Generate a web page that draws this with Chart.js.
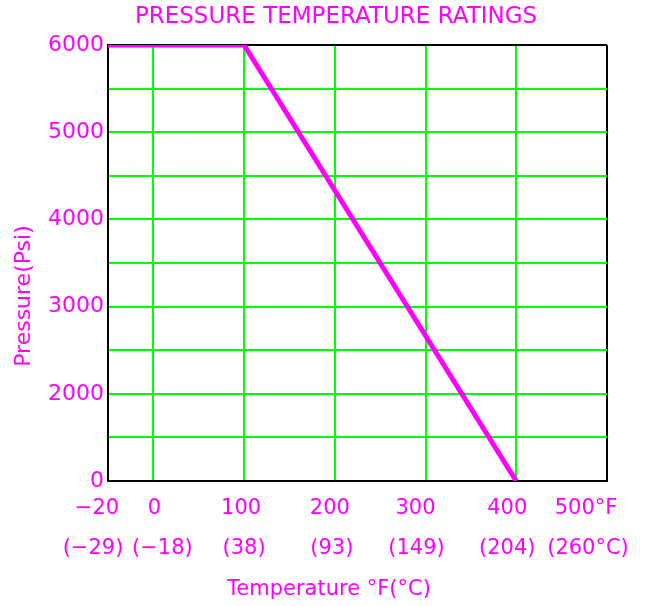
<!DOCTYPE html>
<html>
<head>
    <title>Pressure Temperature Ratings</title>
    <script src="https://cdn.jsdelivr.net/npm/chart.js"></script>
    <style>
        body {
            margin: 0;
            padding: 0;
            background-color: #ffffff;
        }
        #wrap {
            width: 645px;
            height: 606px;
        }
    </style>
</head>
<body>
    <div id="wrap">
        <canvas id="chart" width="645" height="606"></canvas>
    </div>

<script>
        // Axis ticks: temperature in F with the Celsius value underneath
        const tempF = [-20, 0, 100, 200, 300, 400, 500];
        const tempC = [-29, -18, 38, 93, 149, 204, 260];

        // Rating curve
        const ratingTempF = [-20, 100, 400];
        const ratingPsi = [6000, 6000, 0];

        // y grid every 500 psi from the bottom line up to 6000
        const psiTicks = [1000, 1500, 2000, 2500, 3000, 3500, 4000, 4500, 5000, 5500, 6000];
        const psiLabels = [0, 2000, 3000, 4000, 5000, 6000];

        const MAGENTA = '#ff00ff';
        const GREEN = '#00ff00';
        const FONT = 'DejaVu Sans';

        // hand lettering on the sheet is not quite centred on the grid lines
        const nudgeF = [-11, 1, -3, -5, -10, -9, -21];
        const nudgeC = [-15, 9, 0, -3, -9, -9, -19];

        // the original sheet squeezes the ends of both axes:
        // -20..0 F takes half a division, and the bottom grid line is labelled 0 psi
        function axisPos(f) {
            return f < 0 ? f * 2.5 : f;
        }
        function psiPos(p) {
            return p < 1000 ? 1000 : p;
        }

        const ticksX = tempF.map(axisPos);
        const minX = ticksX[0];
        const maxX = ticksX[ticksX.length - 1];
        const minY = psiTicks[0];
        const maxY = psiTicks[psiTicks.length - 1];

        function tickLabelX(i) {
            const f = String(tempF[i]).replace('-', '\u2212');
            const c = String(tempC[i]).replace('-', '\u2212');
            if (i === tempF.length - 1) return [f + '\u00b0F', '(' + c + '\u00b0C)'];
            return [f, '(' + c + ')'];
        }

        function tickLabelY(value) {
            const p = psiLabels.find(l => psiPos(l) === value);
            return p === undefined ? '' : String(p);
        }

        const edgeX = v => v === minX || v === maxX;
        const edgeY = v => v === minY || v === maxY;

        // titles and the two-line temperature labels
        const lettering = {
            id: 'lettering',
            afterDraw(chart) {
                const c = chart.ctx;
                const xs = chart.scales.x;
                c.save();
                c.fillStyle = MAGENTA;
                c.textAlign = 'center';
                c.textBaseline = 'middle';

                c.font = '23px ' + FONT;
                c.fillText('PRESSURE TEMPERATURE RATINGS', 336, 17);

                c.font = '21px ' + FONT;
                tempF.forEach((f, i) => {
                    const px = xs.getPixelForValue(axisPos(f));
                    const lines = tickLabelX(i);
                    c.fillText(lines[0], px + nudgeF[i], 509);
                    c.fillText(lines[1], px + nudgeC[i], 549);
                });

                c.fillText('Temperature \u00b0F(\u00b0C)', 329, 590);

                c.translate(24, 296);
                c.rotate(-Math.PI / 2);
                c.font = '22px ' + FONT;
                c.fillText('Pressure(Psi)', 0, 0);
                c.restore();
            }
        };

        const ctx = document.getElementById('chart').getContext('2d');
        const chart = new Chart(ctx, {
            type: 'line',
            data: {
                datasets: [{
                    data: ratingTempF.map((f, i) => ({ x: axisPos(f), y: psiPos(ratingPsi[i]) })),
                    borderColor: MAGENTA,
                    borderWidth: 5,
                    pointRadius: 0,
                    fill: false,
                    tension: 0
                }]
            },
            options: {
                responsive: false,
                animation: false,
                layout: {
                    padding: { left: 0, right: 38, top: 45, bottom: 0 }
                },
                plugins: {
                    legend: { display: false },
                    tooltip: { enabled: false },
                    title: { display: false }
                },
                scales: {
                    x: {
                        type: 'linear',
                        min: minX,
                        max: maxX,
                        afterBuildTicks: s => { s.ticks = ticksX.map(v => ({ value: v })); },
                        afterFit: s => {
                            s.height = 125;
                            s.paddingLeft = 0;
                            s.paddingRight = 0;
                        },
                        ticks: { display: false },
                        grid: {
                            drawTicks: false,
                            color: c => edgeX(c.tick && c.tick.value) ? '#000' : GREEN,
                            lineWidth: c => edgeX(c.tick && c.tick.value) ? 2 : 2
                        },
                        border: { display: true, color: '#000', width: 2 }
                    },
                    y: {
                        min: minY,
                        max: maxY,
                        afterBuildTicks: s => { s.ticks = psiTicks.map(v => ({ value: v })); },
                        afterFit: s => {
                            s.width = 108;
                            s.paddingTop = 0;
                            s.paddingBottom = 0;
                        },
                        ticks: {
                            color: MAGENTA,
                            font: { family: FONT, size: 22 },
                            padding: 4,
                            autoSkip: false,
                            callback: v => tickLabelY(v)
                        },
                        grid: {
                            drawTicks: false,
                            color: c => edgeY(c.tick && c.tick.value) ? '#000' : GREEN,
                            lineWidth: 2
                        },
                        border: { display: true, color: '#000', width: 2 }
                    }
                }
            },
            plugins: [lettering]
        });
    </script>
</body>
</html>
